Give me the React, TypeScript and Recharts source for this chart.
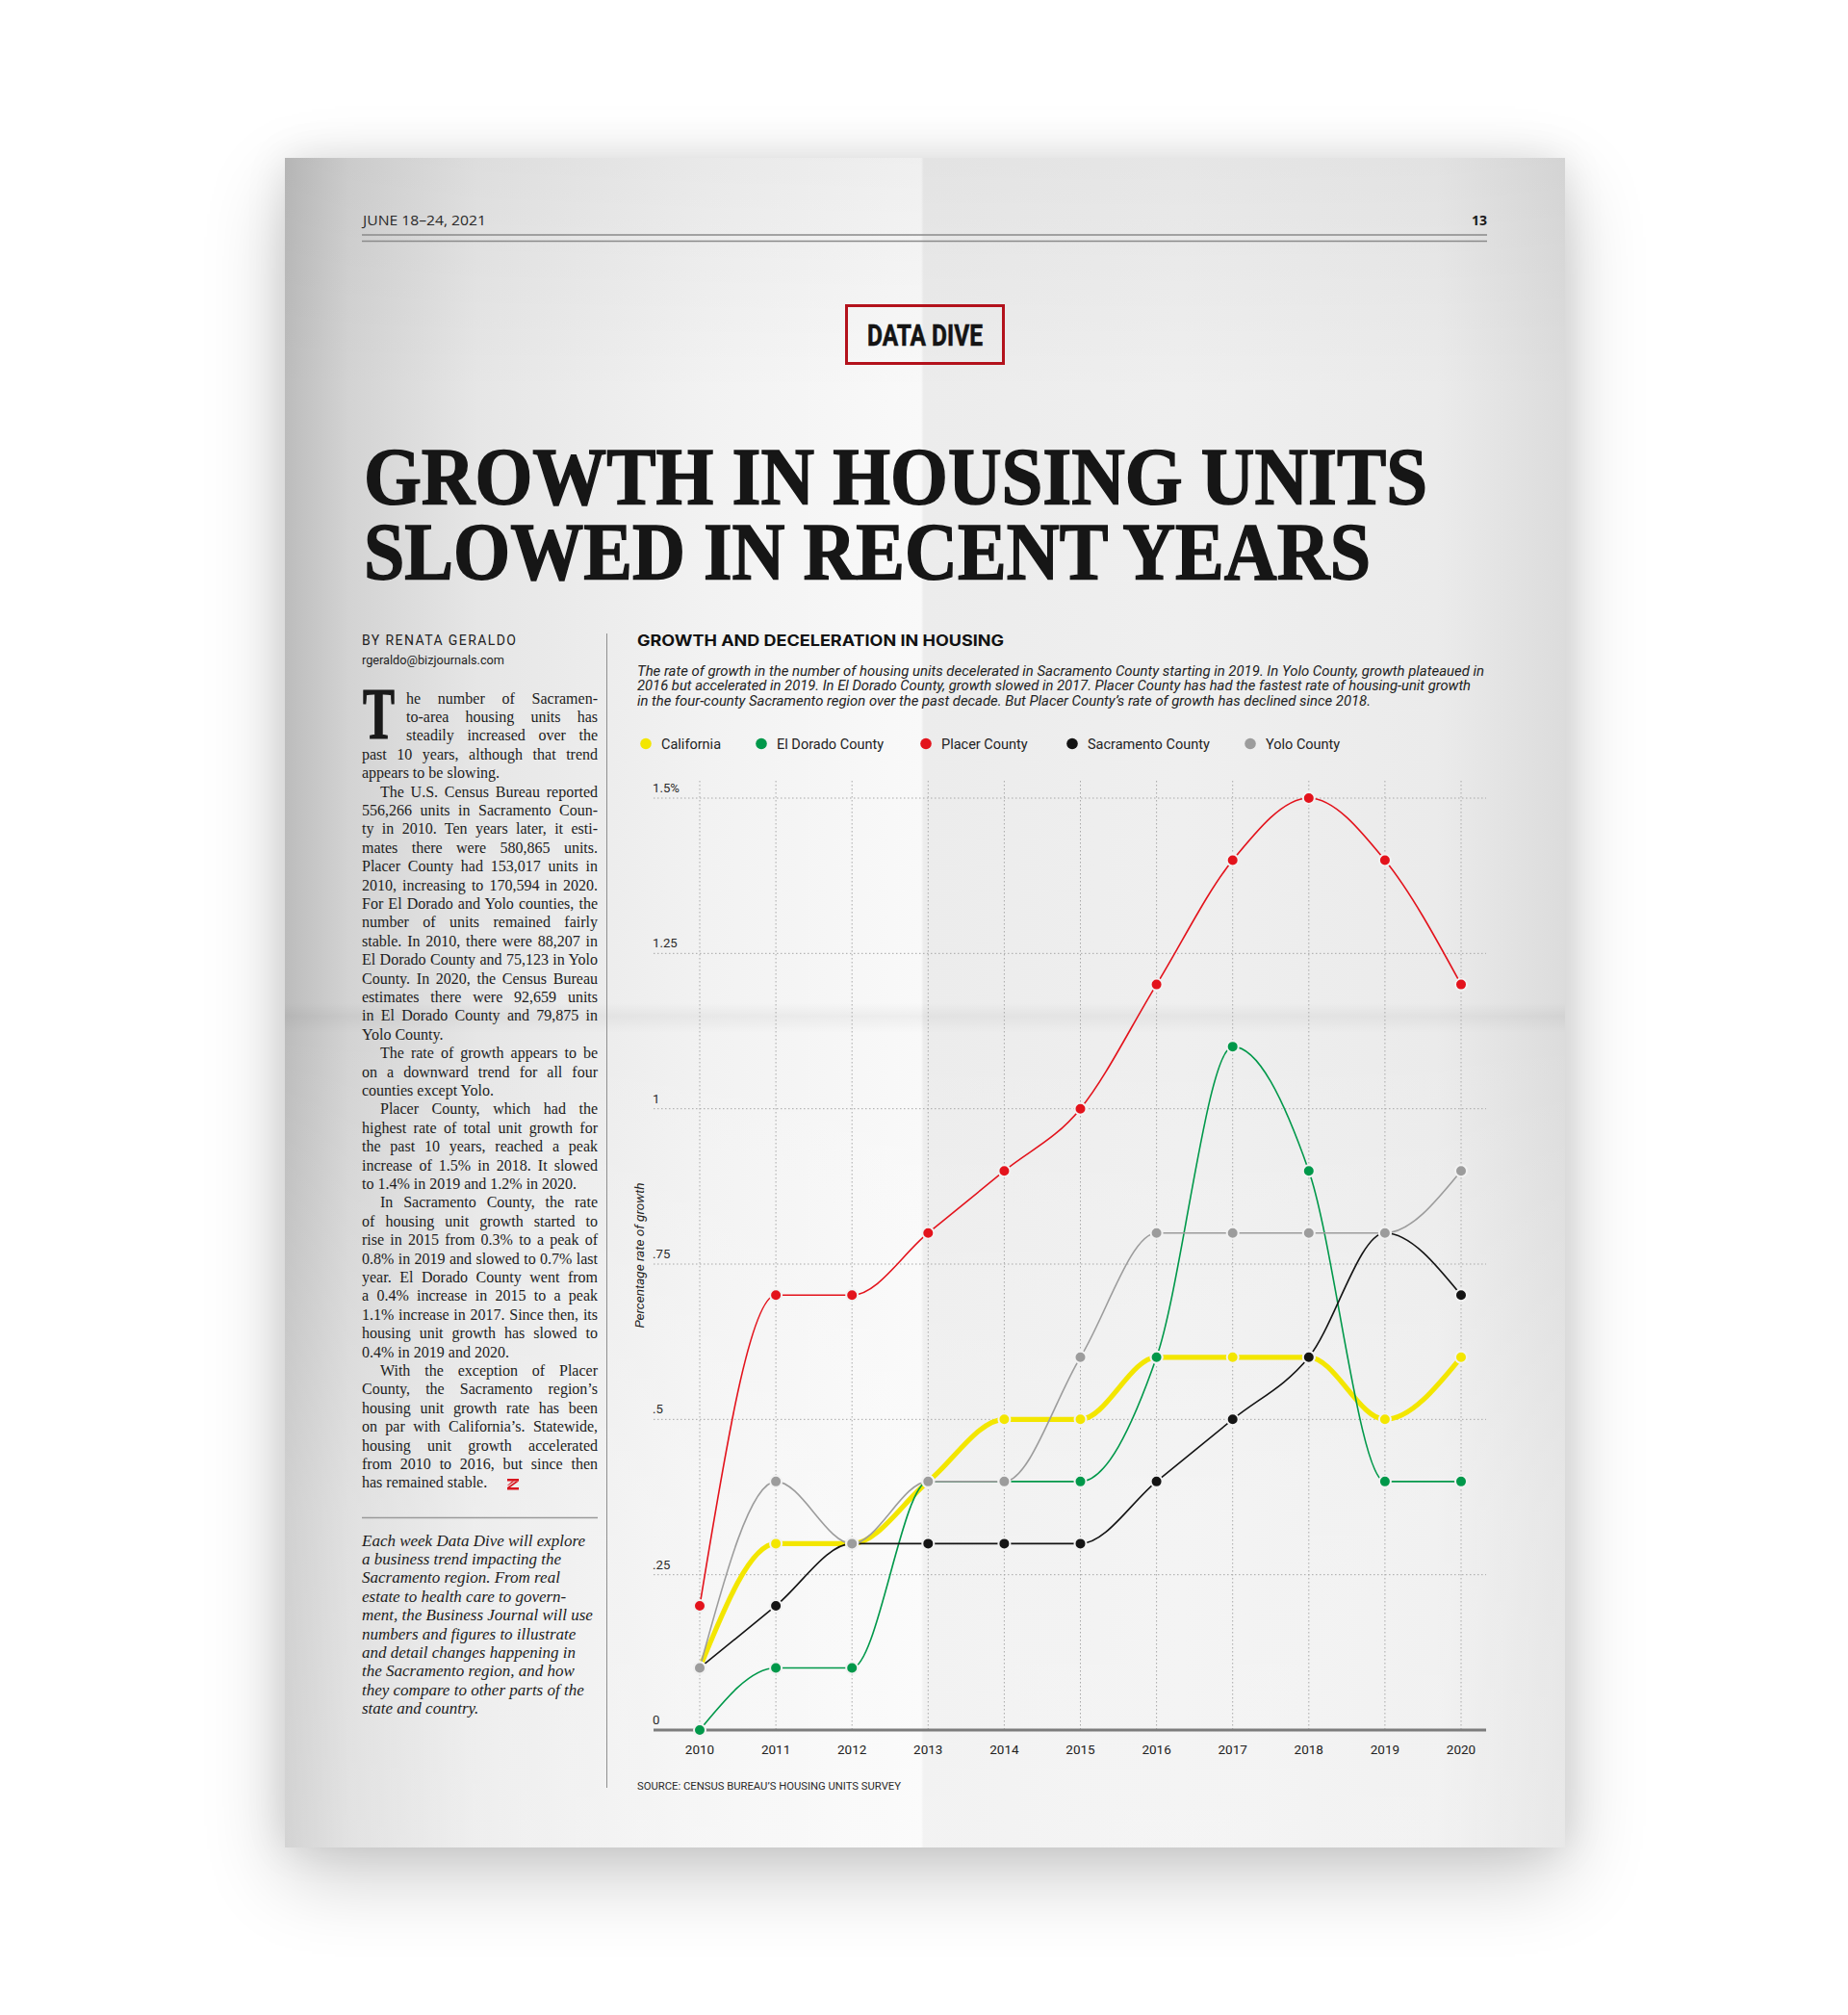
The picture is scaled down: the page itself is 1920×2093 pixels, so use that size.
import React from 'react';
import { LineChart, Line, XAxis, YAxis, CartesianGrid } from 'recharts';

const YEARS = [2010, 2011, 2012, 2013, 2014, 2015, 2016, 2017, 2018, 2019, 2020];
const CALIFORNIA = [0.1, 0.3, 0.3, 0.4, 0.5, 0.5, 0.6, 0.6, 0.6, 0.5, 0.6];
const EL_DORADO = [0, 0.1, 0.1, 0.4, 0.4, 0.4, 0.6, 1.1, 0.9, 0.4, 0.4];
const PLACER = [0.2, 0.7, 0.7, 0.8, 0.9, 1.0, 1.2, 1.4, 1.5, 1.4, 1.2];
const SACRAMENTO = [0.1, 0.2, 0.3, 0.3, 0.3, 0.3, 0.4, 0.5, 0.6, 0.8, 0.7];
const YOLO = [0.1, 0.4, 0.3, 0.4, 0.4, 0.6, 0.8, 0.8, 0.8, 0.8, 0.9];
const Y_TICKS = [0, 0.25, 0.5, 0.75, 1, 1.25, 1.5];
const Y_TICK_LABELS = ['0', '.25', '.5', '.75', '1', '1.25', '1.5%'];

// drawing order (last on top)
const SERIES = [
  { key: 'california', name: 'California', color: '#f3e600', width: 5.2 },
  { key: 'elDorado', name: 'El Dorado County', color: '#00984a', width: 1.6 },
  { key: 'placer', name: 'Placer County', color: '#e3131c', width: 1.6 },
  { key: 'sacramento', name: 'Sacramento County', color: '#141414', width: 1.6 },
  { key: 'yolo', name: 'Yolo County', color: '#9c9c9c', width: 1.6 },
];

const data = YEARS.map((year, i) => ({
  year,
  california: CALIFORNIA[i],
  elDorado: EL_DORADO[i],
  placer: PLACER[i],
  sacramento: SACRAMENTO[i],
  yolo: YOLO[i],
}));

const BODY = [
  ['he number of Sacramen-', 'to-area housing units has', 'steadily increased over the', 'past 10 years, although that trend', 'appears to be slowing.'],
  ['The U.S. Census Bureau reported', '556,266 units in Sacramento Coun-', 'ty in 2010. Ten years later, it esti-', 'mates there were 580,865 units.', 'Placer County had 153,017 units in', '2010, increasing to 170,594 in 2020.', 'For El Dorado and Yolo counties, the', 'number of units remained fairly', 'stable. In 2010, there were 88,207 in', 'El Dorado County and 75,123 in Yolo', 'County. In 2020, the Census Bureau', 'estimates there were 92,659 units', 'in El Dorado County and 79,875 in', 'Yolo County.'],
  ['The rate of growth appears to be', 'on a downward trend for all four', 'counties except Yolo.'],
  ['Placer County, which had the', 'highest rate of total unit growth for', 'the past 10 years, reached a peak', 'increase of 1.5% in 2018. It slowed', 'to 1.4% in 2019 and 1.2% in 2020.'],
  ['In Sacramento County, the rate', 'of housing unit growth started to', 'rise in 2015 from 0.3% to a peak of', '0.8% in 2019 and slowed to 0.7% last', 'year. El Dorado County went from', 'a 0.4% increase in 2015 to a peak', '1.1% increase in 2017. Since then, its', 'housing unit growth has slowed to', '0.4% in 2019 and 2020.'],
  ['With the exception of Placer', 'County, the Sacramento region\u2019s', 'housing unit growth rate has been', 'on par with California\u2019s. Statewide,', 'housing unit growth accelerated', 'from 2010 to 2016, but since then', 'has remained stable.'],
];

const NOTE = [
  'Each week Data Dive will explore',
  'a business trend impacting the',
  'Sacramento region. From real',
  'estate to health care to govern-',
  'ment, the Business Journal will use',
  'numbers and figures to illustrate',
  'and detail changes happening in',
  'the Sacramento region, and how',
  'they compare to other parts of the',
  'state and country.',
];

const DESCRIPTION = [
  'The rate of growth in the number of housing units decelerated in Sacramento County starting in 2019. In Yolo County, growth plateaued in',
  '2016 but accelerated in 2019. In El Dorado County, growth slowed in 2017. Placer County has had the fastest rate of housing-unit growth',
  'in the four-county Sacramento region over the past decade. But Placer County\u2019s rate of growth has declined since 2018.',
];
const DESCRIPTION_WIDTH = [880, 866, 762];

const LEGEND_ORDER = ['california', 'elDorado', 'placer', 'sacramento', 'yolo'];
const LEGEND_LEFT = [671, 791, 962, 1114, 1299];

const LH = 19.4;

const renderYTick = (props: any) => {
  const { y, payload } = props;
  const i = Y_TICKS.indexOf(payload.value);
  return (
    <text x={38} y={y - 6} fontSize={13.2} fontFamily="Roboto" fill="#2a2a2a">
      {Y_TICK_LABELS[i]}
    </text>
  );
};

const renderAxisTitle = (props: any) => {
  const vb = props.viewBox || {};
  const cx = vb.x - 9;
  const cy = vb.y + vb.height / 2;
  return (
    <text x={cx} y={cy} transform={`rotate(-90 ${cx} ${cy})`} textAnchor="middle" fontSize={13.5} fontStyle="italic" fontFamily="Roboto" fill="#222">
      Percentage rate of growth
    </text>
  );
};

function BodyText() {
  const rows: React.ReactNode[] = [];
  let n = 0;
  BODY.forEach((para, p) => {
    para.forEach((line, j) => {
      const last = j === para.length - 1;
      let left = 376;
      if (p === 0 && j < 3) left = 422;
      else if (j === 0 && p > 0) left = 395;
      rows.push(
        <div key={`${p}-${j}`} style={{
          position: 'absolute', left, top: n * LH, width: 621 - left, height: LH, whiteSpace: 'nowrap',
          textAlign: last ? 'left' : 'justify', textAlignLast: last ? 'left' : 'justify',
        } as any}>{line}</div>
      );
      n++;
    });
  });
  return (
    <div style={{ position: 'absolute', left: 0, top: 715.5, fontFamily: 'Liberation Serif', fontSize: 16, lineHeight: `${LH}px`, color: '#1c1c1c' }}>
      {rows}
    </div>
  );
}

export default function App() {
  return (
    <div style={{ position: 'relative', width: 1920, height: 2093, background: '#ffffff', overflow: 'hidden' }}>
      <style>{'body{margin:0}'}</style>
      {/* paper */}
      <div style={{
        position: 'absolute', left: 296, top: 164, width: 1330, height: 1755,
        boxShadow: '0 30px 80px rgba(0,0,0,0.2), 0 0 40px rgba(0,0,0,0.1)',
        background: 'linear-gradient(180deg, rgba(0,0,0,0.04) 0%, rgba(0,0,0,0) 14%, rgba(0,0,0,0) 50%, rgba(0,0,0,0.045) 50.8%, rgba(0,0,0,0) 51.8%, rgba(255,255,255,0.3) 80%, rgba(255,255,255,0.35) 100%), linear-gradient(90deg, #bcbcbc 0%, #d3d3d3 5%, #e6e6e6 15%, #f2f2f2 33%, #f9f9f9 49.7%, #ececec 49.9%, #efefef 70%, #ebebeb 90%, #dcdcdc 100%)',
      }} />

      <svg width={1920} height={2093} style={{ position: 'absolute', left: 0, top: 0 }}>
        <text x={377} y={234} fontFamily="Open Sans" fontSize={14.5} textLength={128} lengthAdjust="spacingAndGlyphs" fill="#2a2a2a">JUNE 18–24, 2021</text>
        <text x={1545} y={234} textAnchor="end" fontFamily="Open Sans" fontWeight={700} fontSize={14} fill="#1a1a1a">13</text>
        <line x1={376} x2={1545} y1={244} y2={244} stroke="#8a8a8a" strokeWidth={1.5} />
        <line x1={376} x2={1545} y1={250.5} y2={250.5} stroke="#8a8a8a" strokeWidth={1.5} />

        <rect x={879.5} y={317.5} width={163} height={60} fill="none" stroke="#b3121c" strokeWidth={3} />
        <text x={901} y={359} fontFamily="Roboto" fontWeight={700} fontSize={32} textLength={120} lengthAdjust="spacingAndGlyphs" fill="#141414" stroke="#141414" strokeWidth={0.6}>DATA DIVE</text>

        <text x={378} y={524} fontFamily="Liberation Serif" fontWeight={700} fontSize={84} textLength={1105} lengthAdjust="spacingAndGlyphs" fill="#161616" stroke="#161616" strokeWidth={1.5}>GROWTH IN HOUSING UNITS</text>
        <text x={378} y={602} fontFamily="Liberation Serif" fontWeight={700} fontSize={84} textLength={1046} lengthAdjust="spacingAndGlyphs" fill="#161616" stroke="#161616" strokeWidth={1.5}>SLOWED IN RECENT YEARS</text>

        <text x={376} y={670} fontFamily="Roboto" fontSize={14} textLength={160} lengthAdjust="spacing" fill="#222">BY RENATA GERALDO</text>
        <text x={376} y={690} fontFamily="Roboto" fontSize={12.5} textLength={148} lengthAdjust="spacingAndGlyphs" fill="#222">rgeraldo@bizjournals.com</text>
        <text x={377} y={767} fontFamily="Liberation Serif" fontWeight={700} fontSize={76} textLength={33} lengthAdjust="spacingAndGlyphs" fill="#1a1a1a" stroke="#1a1a1a" strokeWidth={1.2}>T</text>

        <line x1={630.5} x2={630.5} y1={658} y2={1857} stroke="#8f8f8f" strokeWidth={1} />
        <line x1={376} x2={621} y1={1576.5} y2={1576.5} stroke="#9a9a9a" strokeWidth={1.5} />

        <g fill="#d8161f">
          <polygon points="527,1536 539,1536 539,1538.5 527,1538.5" />
          <polygon points="536,1538.5 539,1538.5 530,1545 527,1545" />
          <polygon points="527,1545 539,1545 539,1547.5 527,1547.5" />
          <polygon points="532,1538.5 534.5,1538.5 528,1543 527,1543" />
        </g>

        <text x={662} y={671} fontFamily="Inter" fontWeight={700} fontSize={15.5} textLength={381} lengthAdjust="spacingAndGlyphs" fill="#111">GROWTH AND DECELERATION IN HOUSING</text>
        {DESCRIPTION.map((t, i) => (
          <text key={i} x={662} y={702 + i * 15.4} fontFamily="Roboto" fontStyle="italic" fontSize={14.2} textLength={DESCRIPTION_WIDTH[i]} lengthAdjust="spacingAndGlyphs" fill="#222">{t}</text>
        ))}
        {LEGEND_ORDER.map((k, i) => {
          const s = SERIES.find((x) => x.key === k)!;
          return (
            <g key={k}>
              <circle cx={LEGEND_LEFT[i]} cy={772.5} r={5.8} fill={s.color} />
              <text x={LEGEND_LEFT[i] + 16} y={777.5} fontFamily="Roboto" fontSize={14.5} fill="#222">{s.name}</text>
            </g>
          );
        })}
        <text x={662} y={1859} fontFamily="Roboto" fontSize={11.2} textLength={274} lengthAdjust="spacingAndGlyphs" fill="#2a2a2a">SOURCE: CENSUS BUREAU’S HOUSING UNITS SURVEY</text>
      </svg>

      <BodyText />
      <div style={{ position: 'absolute', left: 376, top: 1590.5, fontFamily: 'Liberation Serif', fontStyle: 'italic', fontSize: 17, lineHeight: `${LH}px`, color: '#1c1c1c', whiteSpace: 'nowrap' }}>
        {NOTE.map((t, i) => <div key={i}>{t}</div>)}
      </div>

      <div style={{ position: 'absolute', left: 640, top: 790, width: 920, height: 1100 }}>
        <LineChart width={920} height={1100} data={data} margin={{ top: 21, right: 16, bottom: 63, left: 38 }}>
          <CartesianGrid stroke="#a8a8a8" strokeDasharray="1.5 2.5" strokeWidth={1} syncWithTicks />
          <XAxis
            type="number" dataKey="year" domain={[2010, 2020]} ticks={YEARS} interval={0}
            padding={{ left: 48, right: 26 }} height={30}
            axisLine={{ stroke: '#7d7d7d', strokeWidth: 3 }} tickLine={false} tickMargin={9}
            tick={{ fontSize: 13.5, fill: '#222', fontFamily: 'Roboto' }}
          />
          <YAxis
            type="number" domain={[0, 1.5]} ticks={Y_TICKS} interval={0} width={1}
            padding={{ top: 18, bottom: 0 }} axisLine={false} tickLine={false}
            tick={renderYTick} label={renderAxisTitle}
          />
          {SERIES.map((s) => (
            <Line
              key={s.key} dataKey={s.key} name={s.name} type="monotone"
              stroke={s.color} strokeWidth={s.width}
              dot={{ r: 6, fill: s.color, stroke: '#f2f2f2', strokeWidth: 2, fillOpacity: 1 }}
              activeDot={false} isAnimationActive={false}
            />
          ))}
        </LineChart>
      </div>
    </div>
  );
}
